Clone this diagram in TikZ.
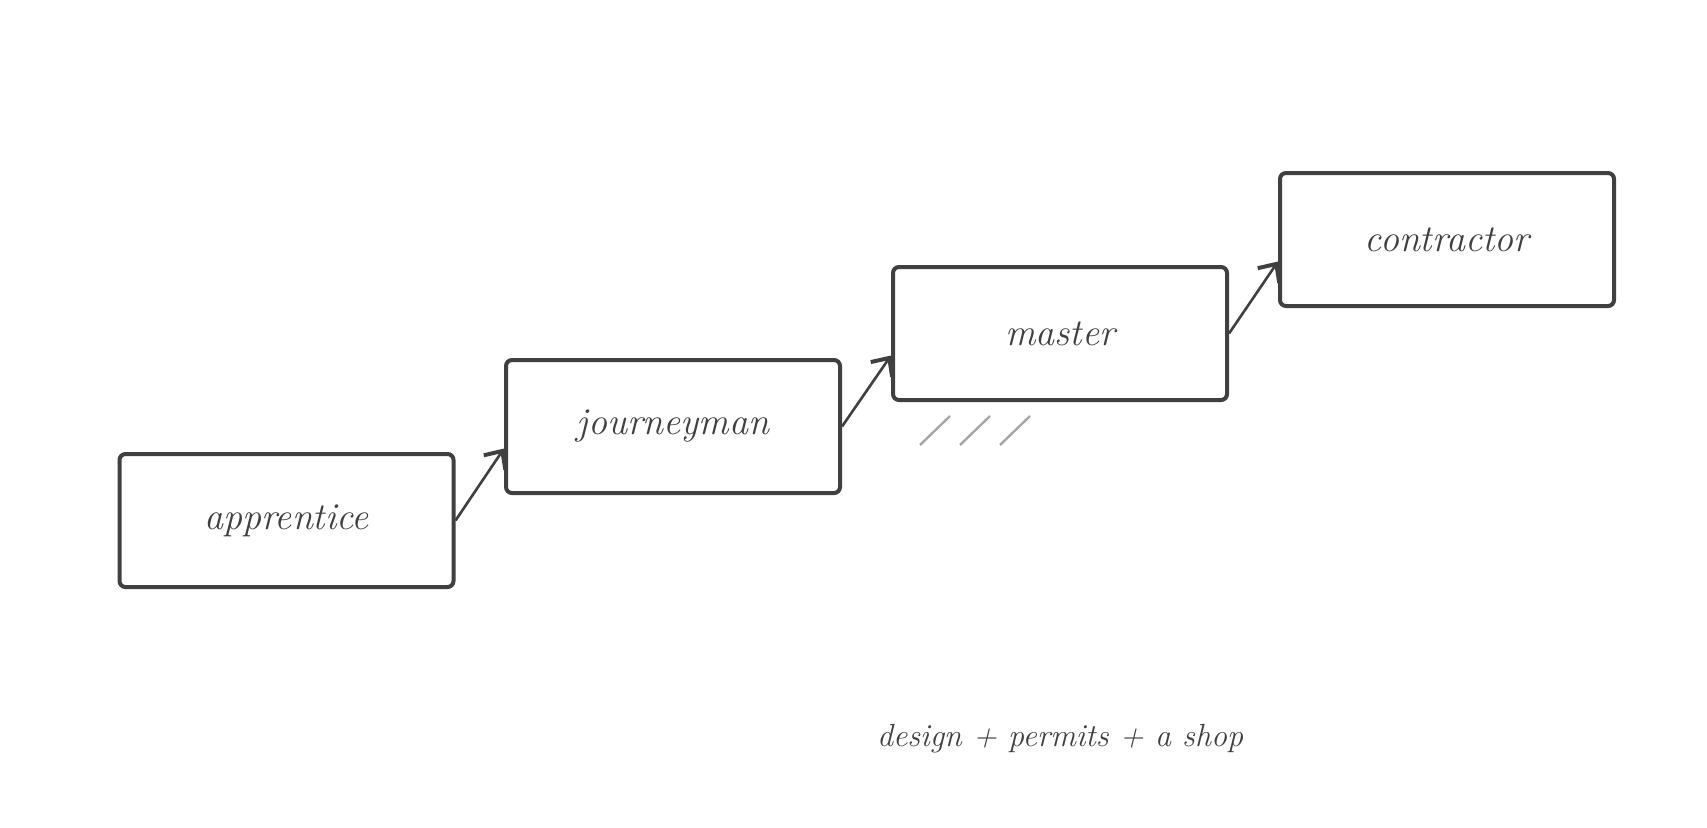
\documentclass[tikz,border=0pt]{standalone}
\usetikzlibrary{positioning, arrows.meta}

\begin{document}
\begin{tikzpicture}[
        x=0.5pt,
        y=-0.5pt,
        rung/.style={draw=black!75, line width=2pt, rounded corners=3pt, minimum width=167pt, minimum height=66.5pt, font=\fontsize{19}{22}\selectfont\itshape, text=black!75},
        up/.style={draw=black!75, line width=1.3pt, -{Straight Barb[length=7pt, width=13pt, line width=2pt]}},
        hatch/.style={draw=black!35, line width=1.2pt}
    ]
    \useasboundingbox (0,0) rectangle (1707,827);
    \node[rung] (apprentice) at (286.5,520.5) {apprentice};
    \node[rung] (journeyman) at (673,426.5) {journeyman};
    \node[rung] (master) at (1060,333.5) {master};
    \node[rung] (contractor) at (1447,239.5) {contractor};

    \draw[up] (apprentice.east) -- ([yshift=-11pt]journeyman.west);
    \draw[up] (journeyman.east) -- ([yshift=-11pt]master.west);
    \draw[up] (master.east) -- ([yshift=-11pt]contractor.west);

    \foreach \x in {920,960,1000}
        \draw[hatch] (\x,445) -- (\x+30,416);

    \node[font=\fontsize{16}{19}\selectfont\itshape, text=black!75] (note) at (1060,739) {design + permits + a shop};
\end{tikzpicture}
\end{document}
